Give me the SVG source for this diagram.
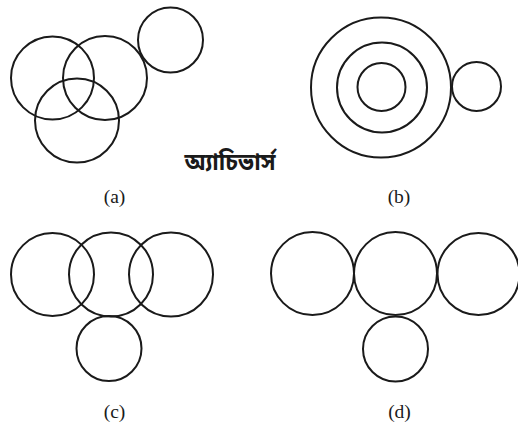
<svg xmlns="http://www.w3.org/2000/svg" width="518" height="423" viewBox="0 0 518 423">
<style>
.c{fill:none;stroke:#1a1a1a;stroke-width:2}
.l{font-family:"Liberation Serif","Times New Roman",serif;font-size:19.5px;fill:#1a1a1a;text-anchor:middle}
.w{font-family:"Noto Sans Bengali","Noto Sans","DejaVu Sans",sans-serif;font-size:23px;font-weight:bold;fill:#1a1a1a;text-anchor:middle}
</style>
<rect width="518" height="423" fill="#fff"/>
<g id="panel-a">
<circle class="c" cx="52.5" cy="78" r="41.5"/>
<circle class="c" cx="105" cy="78" r="42"/>
<circle class="c" cx="77" cy="120.5" r="42"/>
<circle class="c" cx="170.5" cy="40" r="32.5"/>
<text class="l" x="114.5" y="203">(a)</text>
</g>
<g id="panel-b">
<circle class="c" cx="381" cy="87.5" r="70"/>
<circle class="c" cx="382" cy="87.5" r="45"/>
<circle class="c" cx="381.5" cy="87" r="24"/>
<circle class="c" cx="476.5" cy="86.5" r="24.5"/>
<text class="l" x="399" y="203">(b)</text>
</g>
<g id="watermark">
<text class="w" x="230" y="170">অ্যাচিভার্স</text>
</g>
<g id="panel-c">
<circle class="c" cx="52.5" cy="274.5" r="41.5"/>
<circle class="c" cx="111" cy="274.5" r="42"/>
<circle class="c" cx="171" cy="274.5" r="42"/>
<circle class="c" cx="109" cy="348.5" r="32.5"/>
<text class="l" x="114.5" y="418">(c)</text>
</g>
<g id="panel-d">
<circle class="c" cx="312.5" cy="273.5" r="41.5"/>
<circle class="c" cx="395.5" cy="273.5" r="41.5"/>
<circle class="c" cx="478.5" cy="274" r="41"/>
<circle class="c" cx="395.5" cy="349" r="32.5"/>
<text class="l" x="399.5" y="418">(d)</text>
</g>
<g id="connectors"/>
</svg>
